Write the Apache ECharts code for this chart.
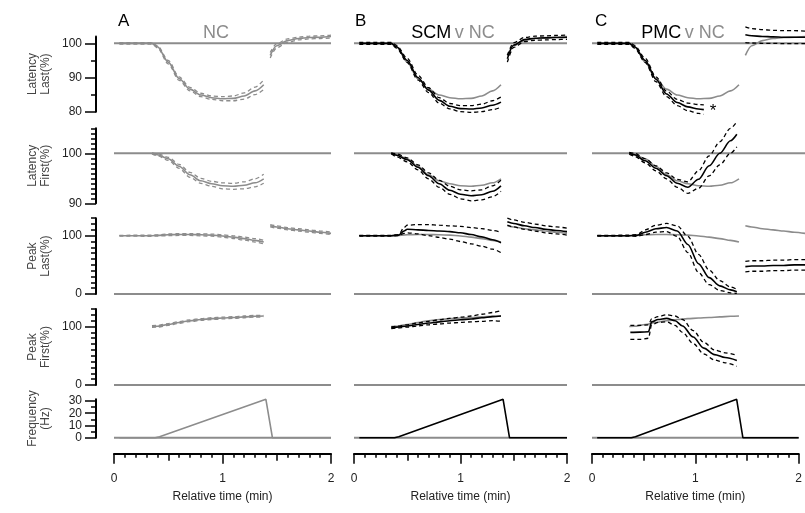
<!DOCTYPE html>
<html><head><meta charset="utf-8">
<script src="https://cdn.jsdelivr.net/npm/echarts@6/dist/echarts.min.js"></script>
<style>html,body{margin:0;padding:0;background:#fff}#c{width:805px;height:513px}</style>
</head><body><div id="c"></div>
<script>
// ---------------- DATA ----------------
const groups = ['NC', 'SCM', 'PMC'];
const panelLetters = ['A', 'B', 'C'];
const rowNames = ['Latency\nLast(%)', 'Latency\nFirst(%)', 'Peak\nLast(%)', 'Peak\nFirst(%)', 'Frequency\n(Hz)'];
const refLevels = [100, 100, 0, 0, 0];
const refTime = [0, 2];

// tick labels
const xTickMajor = [0, 1, 2];
const xTickMid = [0.5, 1.5];
const xTickMinor = [0.1,0.2,0.3,0.4,0.6,0.7,0.8,0.9,1.1,1.2,1.3,1.4,1.6,1.7,1.8,1.9];
const yTickLatLast = [80, 90, 100];
const yMinorLatLast = [85, 95];
const yTickLatFirst = [90, 100];
const yMinorLatFirst = [91,92,93,94,95,96,97,98,99,101,102,103,104,105];
const yTickPeak = [0, 100];
const yMinorPeak = [10,20,30,40,50,60,70,80,90,110,120,130];
const yTickFreq = [0, 10, 20, 30];
const yMinorFreq = [5, 15, 25];

// time bases (min)
const timeSeg1 = [0.05,0.35,0.4,0.5,0.6,0.7,0.8,0.9,1.0,1.1,1.2,1.3,1.38];
const timeSeg1Late = [0.35,0.4,0.5,0.6,0.7,0.8,0.9,1.0,1.1,1.2,1.3,1.38];
const timeSeg2 = [1.44,1.5,1.6,1.7,1.8,1.9,2.0];

// Row 1: Latency Last (%)
const latLastNC   = [100,100,99,94.5,89.7,86.6,84.9,84.1,83.8,83.9,84.6,86.1,87.9];
const latLastNCUp = [100.2,100.2,99.3,95,90.2,87.1,85.4,84.6,84.4,84.6,85.5,87.2,89.3];
const latLastNCLo = [99.8,99.8,98.7,94,89.2,86.1,84.4,83.6,83.2,83.2,83.7,85,86.5];
const latLastSCM   = [100,100,99,95,90,86.3,83.3,81.6,80.9,80.8,81.1,81.9,82.8];
const latLastSCMUp = [100.3,100.3,99.4,95.6,90.7,87,84.1,82.4,81.8,81.8,82.2,83.2,84.3];
const latLastSCMLo = [99.7,99.7,98.6,94.4,89.3,85.6,82.5,80.8,80,79.8,80,80.6,81.3];
const latLastPMCTime = [0.05,0.35,0.4,0.5,0.6,0.7,0.8,0.9,1.0,1.05];
const latLastPMC   = [100,100,99,95,89.5,85.2,82.7,81.4,80.8,80.6];
const latLastPMCUp = [100.3,100.3,99.4,95.6,90.2,86,83.6,82.5,82.1,82];
const latLastPMCLo = [99.7,99.7,98.6,94.4,88.8,84.4,81.8,80.3,79.5,79.2];
const latLastNC2   = [96.5,99.3,100.8,101.4,101.7,101.8,102];
const latLastNC2Up = [97.3,99.9,101.3,101.8,102.1,102.2,102.4];
const latLastNC2Lo = [95.7,98.7,100.3,101,101.3,101.4,101.6];
const latLastSCM2   = [95.5,99.5,101.1,101.5,101.6,101.7,101.8];
const latLastSCM2Up = [96.5,100.2,101.7,102.1,102.2,102.3,102.4];
const latLastSCM2Lo = [94.5,98.8,100.5,100.9,101,101.1,101.2];
const latLastPMC2   = [102.5,102.2,102,101.9,101.8,101.8,101.8];
const latLastPMC2Up = [104.8,104.3,104,103.8,103.7,103.7,103.6];
const latLastPMC2Lo = [100.2,100.1,100,100,99.9,99.9,99.9];

// Row 2: Latency First (%)
const latFirstNC   = [100,99.7,98.9,97.4,95.7,94.5,93.9,93.5,93.4,93.6,94.1,94.9];
const latFirstNCUp = [100.1,99.9,99.2,97.8,96.2,95,94.4,94.1,94,94.3,94.9,95.8];
const latFirstNCLo = [99.9,99.5,98.6,97,95.2,94,93.4,92.9,92.8,92.9,93.3,94];
const latFirstSCM   = [100,99.6,98.7,97.2,95.5,93.9,92.6,91.8,91.5,91.7,92.4,93.5];
const latFirstSCMUp = [100.1,99.9,99.1,97.7,96.1,94.6,93.4,92.7,92.5,92.7,93.5,94.6];
const latFirstSCMLo = [99.9,99.3,98.3,96.7,94.9,93.2,91.8,90.9,90.5,90.7,91.3,92.4];
const latFirstPMCTime = [0.35,0.4,0.5,0.6,0.7,0.8,0.9,1.0,1.1,1.2,1.3,1.36];
const latFirstPMC   = [100,99.7,98.5,97,95.5,94,93.2,94.8,97.5,100,102.5,103.8];
const latFirstPMCUp = [100.2,100,98.9,97.5,96.1,94.8,94.3,96.5,99.5,102.3,105,106.3];
const latFirstPMCLo = [99.8,99.4,98.1,96.5,94.9,93.2,92,93,95.5,97.7,100,101.3];

// Row 3: Peak Last (%)
const peakLastNC   = [100,100,100.5,101.5,102,102,101.5,101,99.5,97.5,95,92,89];
const peakLastNCUp = [100.5,101,101.5,103,103.5,103.5,103.2,102.8,101.5,99.8,97.5,95,92];
const peakLastNCLo = [99.5,99,99.5,100,100.5,100.5,99.8,99.2,97.5,95.2,92.5,89,86];
const peakLastSCMTime = [0.05,0.35,0.42,0.47,0.5,0.6,0.7,0.8,0.9,1.0,1.1,1.2,1.3,1.38];
const peakLastSCM   = [100,100,101,108,111,110,109,108,107,105,102,98,93,88];
const peakLastSCMUp = [100.5,100.5,102,114,118,119,119,118,117,116,114,112,109,106];
const peakLastSCMLo = [99.5,99.5,100,104,105,103,100,97,94,90,86,82,77,71];
const peakLastPMCTime = [0.05,0.35,0.42,0.5,0.6,0.7,0.8,0.9,1.0,1.1,1.2,1.3,1.36];
const peakLastPMC   = [100,100,100.5,106,112,114,108,85,52,28,14,7,4];
const peakLastPMCUp = [100.5,100.8,102,110,118,121,117,99,68,41,23,12,8];
const peakLastPMCLo = [99.5,99.2,99,102,106,107,99,71,37,16,6,2,1];
const peakLastNC2   = [117,115,112,110,108,106,104];
const peakLastNC2Up = [119,117,114,112,110,108,106];
const peakLastNC2Lo = [115,113,110,108,106,104,102];
const peakLastSCM2   = [124,121,117,114,111,109,107];
const peakLastSCM2Up = [130,127,123,120,117,115,113];
const peakLastSCM2Lo = [118,115,111,108,105,103,101];
const peakLastPMC2   = [47,48,48,49,49,50,50];
const peakLastPMC2Up = [56,57,57,58,58,59,59];
const peakLastPMC2Lo = [38,39,39,40,40,41,41];

// Row 4: Peak First (%)
const peakFirstNC   = [100,100.5,103.5,107,110,112,113.5,114.5,115.5,116.5,117.5,118];
const peakFirstNCUp = [101.5,102,105,108.5,111.5,113.5,115,116,117,118,119,119.5];
const peakFirstNCLo = [98.5,99,102,105.5,108.5,110.5,112,113,114,115,116,116.5];
const peakFirstSCM   = [98,99,101,103.5,106,108,110,111.5,113,115,117,118];
const peakFirstSCMUp = [99.5,100.5,103,106,109,111.5,114,116,118,121,124,127];
const peakFirstSCMLo = [96.5,97.5,99,101,103,104.5,106,107,108,109,110,109];
const peakFirstPMCTime = [0.36,0.45,0.53,0.56,0.62,0.7,0.78,0.85,0.95,1.05,1.15,1.25,1.36];
const peakFirstPMC   = [90,90.5,91,108,112,114,110,101,82,63,52,47,42];
const peakFirstPMCUp = [102,102,103,113,117,120,118,112,93,73,60,55,51];
const peakFirstPMCLo = [78,78,80,103,107,108,102,90,71,53,43,38,32];

// Row 5: Frequency (Hz)
const freqTime = [0.05,0.38,0.42,1.4,1.46,2.0];
const freqHz = [0,0,0.8,31.4,0,0];

// ---------------- LAYOUT / STYLE ----------------
const FONT = '"Liberation Sans", Arial, sans-serif';
const GRAY = '#8c8c8c';
const colLeft = [114, 354, 592];
const colWidth = [217, 213, 216];
const rowTop = [36.5, 128.3, 218.2, 309, 399.3];
const rowHeight = [75.2, 75, 75.8, 76, 38.4];
const yMin = [80, 90, 0, 0, 0];
const yMax = [102, 105, 130, 130, 31.4];
const yMajor = [yTickLatLast, yTickLatFirst, yTickPeak, yTickPeak, yTickFreq];
const yMinor = [yMinorLatLast, yMinorLatFirst, yMinorPeak, yMinorPeak, yMinorFreq];

function seg(t, m, u, l) { return {t, m, u, l}; }
const rowCurves = [
  { NC: [seg(timeSeg1, latLastNC, latLastNCUp, latLastNCLo), seg(timeSeg2, latLastNC2, latLastNC2Up, latLastNC2Lo)],
    SCM: [seg(timeSeg1, latLastSCM, latLastSCMUp, latLastSCMLo), seg(timeSeg2, latLastSCM2, latLastSCM2Up, latLastSCM2Lo)],
    PMC: [seg(latLastPMCTime, latLastPMC, latLastPMCUp, latLastPMCLo), seg(timeSeg2, latLastPMC2, latLastPMC2Up, latLastPMC2Lo)] },
  { NC: [seg(timeSeg1Late, latFirstNC, latFirstNCUp, latFirstNCLo)],
    SCM: [seg(timeSeg1Late, latFirstSCM, latFirstSCMUp, latFirstSCMLo)],
    PMC: [seg(latFirstPMCTime, latFirstPMC, latFirstPMCUp, latFirstPMCLo)] },
  { NC: [seg(timeSeg1, peakLastNC, peakLastNCUp, peakLastNCLo), seg(timeSeg2, peakLastNC2, peakLastNC2Up, peakLastNC2Lo)],
    SCM: [seg(peakLastSCMTime, peakLastSCM, peakLastSCMUp, peakLastSCMLo), seg(timeSeg2, peakLastSCM2, peakLastSCM2Up, peakLastSCM2Lo)],
    PMC: [seg(peakLastPMCTime, peakLastPMC, peakLastPMCUp, peakLastPMCLo), seg(timeSeg2, peakLastPMC2, peakLastPMC2Up, peakLastPMC2Lo)] },
  { NC: [seg(timeSeg1Late, peakFirstNC, peakFirstNCUp, peakFirstNCLo)],
    SCM: [seg(timeSeg1Late, peakFirstSCM, peakFirstSCMUp, peakFirstSCMLo)],
    PMC: [seg(peakFirstPMCTime, peakFirstPMC, peakFirstPMCUp, peakFirstPMCLo)] }
];

function pts(ts, vs) { return ts.map((t, i) => [t, vs[i]]); }

const grids = [], xAxes = [], yAxes = [], series = [];
const tickLine = {color: '#000', width: 1.5};
const X_OFFSET = 16;

function lineSeries(xi, yi, data, color, width, dashed, smooth, z) {
  return {
    type: 'line', xAxisIndex: xi, yAxisIndex: yi, data,
    showSymbol: false, symbol: 'none', silent: true, animation: false, clip: false,
    smooth: smooth, smoothMonotone: 'x', z: z,
    lineStyle: {color, width, type: dashed ? [4, 3] : 'solid'}
  };
}

for (let r = 0; r < 5; r++) {
  for (let c = 0; c < 3; c++) {
    const gi = grids.length;
    grids.push({left: colLeft[c], top: rowTop[r], width: colWidth[c], height: rowHeight[r], containLabel: false});
    const xi = xAxes.length;
    if (r < 4) {
      xAxes.push({gridIndex: gi, type: 'value', min: 0, max: 2, show: false, position: 'bottom'});
    } else {
      xAxes.push({
        gridIndex: gi, type: 'value', min: 0, max: 2, position: 'bottom', offset: X_OFFSET,
        axisLine: {show: true, onZero: false, lineStyle: {color: '#000', width: 2}},
        axisTick: {show: true, inside: false, length: 10, customValues: xTickMajor, lineStyle: tickLine},
        axisLabel: {show: true, customValues: xTickMajor, margin: 19, fontSize: 12, color: '#222', fontFamily: FONT},
        splitLine: {show: false},
        name: 'Relative time (min)', nameLocation: 'middle', nameGap: 37,
        nameTextStyle: {fontSize: 12, color: '#222', fontFamily: FONT}
      });
      xAxes.push({
        gridIndex: gi, type: 'value', min: 0, max: 2, position: 'bottom', offset: X_OFFSET,
        axisLine: {show: false, onZero: false},
        axisTick: {show: true, inside: false, length: 7, customValues: xTickMid, lineStyle: tickLine},
        axisLabel: {show: false}, splitLine: {show: false}
      });
      xAxes.push({
        gridIndex: gi, type: 'value', min: 0, max: 2, position: 'bottom', offset: X_OFFSET,
        axisLine: {show: false, onZero: false},
        axisTick: {show: true, inside: false, length: 4, customValues: xTickMinor, lineStyle: tickLine},
        axisLabel: {show: false}, splitLine: {show: false}
      });
    }
    const yi = yAxes.length;
    yAxes.push({
      gridIndex: gi, type: 'value', min: yMin[r], max: yMax[r], position: 'left', offset: 18,
      show: c === 0,
      axisLine: {show: true, onZero: false, lineStyle: {color: '#000', width: 2}},
      axisTick: {show: true, inside: false, length: 11, customValues: yMajor[r], lineStyle: tickLine},
      axisLabel: {show: true, customValues: yMajor[r], margin: 14, fontSize: 12, color: '#222', fontFamily: FONT},
      splitLine: {show: false},
      name: c === 0 ? rowNames[r] : '', nameLocation: 'middle', nameRotate: 90, nameGap: 44,
      nameTextStyle: {fontSize: 12, color: '#444', fontFamily: FONT, lineHeight: 13}
    });
    if (c === 0) {
      yAxes.push({
        gridIndex: gi, type: 'value', min: yMin[r], max: yMax[r], position: 'left', offset: 18,
        axisLine: {show: false, onZero: false},
        axisTick: {show: true, inside: false, length: 5, customValues: yMinor[r], lineStyle: tickLine},
        axisLabel: {show: false}, splitLine: {show: false}
      });
    }
    // reference line
    series.push(lineSeries(xi, yi, pts(refTime, [refLevels[r], refLevels[r]]), GRAY, 2, false, false, 1));
    const col = c === 0 ? GRAY : '#000';
    if (r === 4) {
      series.push(lineSeries(xi, yi, pts(freqTime, freqHz), col, 1.6, false, false, 3));
      continue;
    }
    const rc = rowCurves[r];
    if (c > 0) {
      rc.NC.forEach(s => series.push(lineSeries(xi, yi, pts(s.t, s.m), GRAY, 1.6, false, 0.3, 2)));
    }
    rc[groups[c]].forEach(s => {
      series.push(lineSeries(xi, yi, pts(s.t, s.u), col, 1.3, true, 0.3, 3));
      series.push(lineSeries(xi, yi, pts(s.t, s.l), col, 1.3, true, 0.3, 3));
      series.push(lineSeries(xi, yi, pts(s.t, s.m), col, 1.6, false, 0.3, 4));
    });
  }
}

const letterX = [118, 355, 595];
const titleX = [216, 453, 683];
const graphic = [];
for (let c = 0; c < 3; c++) {
  graphic.push({type: 'text', x: letterX[c], y: 21, style: {text: panelLetters[c], font: '17px ' + FONT, fill: '#000', align: 'left', verticalAlign: 'middle'}});
  const txt = c === 0 ? '{g|NC}' : '{k|' + groups[c] + '} {g|v NC}';
  graphic.push({type: 'text', x: titleX[c], y: 33, style: {text: txt, align: 'center', verticalAlign: 'middle',
    rich: {k: {fill: '#000', font: '18px ' + FONT}, g: {fill: GRAY, font: '18px ' + FONT}}}});
}
graphic.push({type: 'text', x: 713, y: 111, style: {text: '*', font: '17px ' + FONT, fill: '#000', align: 'center', verticalAlign: 'middle'}});

const chart = echarts.init(document.getElementById('c'), null, {renderer: 'canvas'});
chart.setOption({
  animation: false,
  backgroundColor: '#fff',
  grid: grids, xAxis: xAxes, yAxis: yAxes, series, graphic
});
</script></body></html>
